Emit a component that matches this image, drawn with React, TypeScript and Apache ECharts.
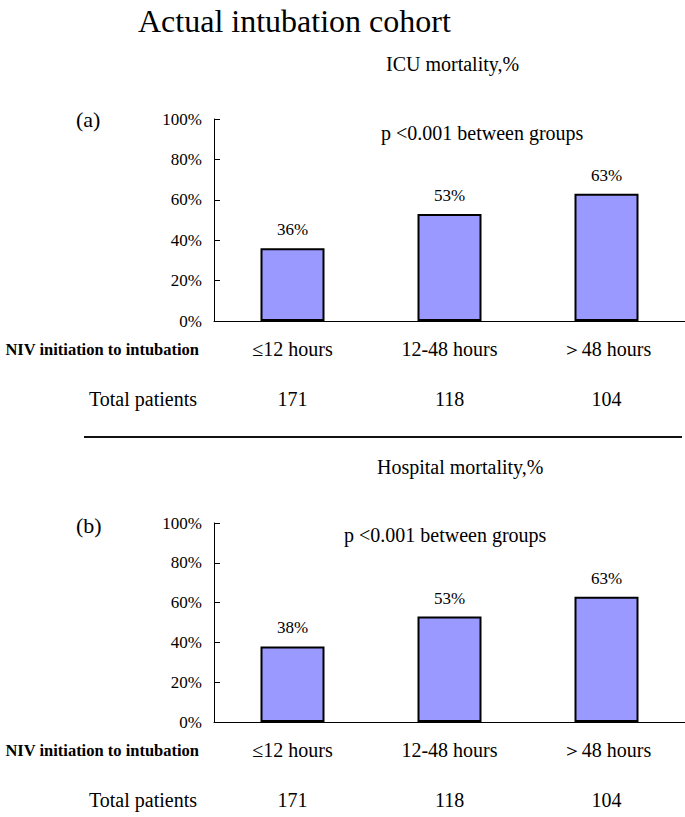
import React, { useEffect, useRef } from 'react';
import * as echarts from 'echarts';

const categories = ['≤12 hours', '12-48 hours', '＞48 hours'];
const icuMortality = [36, 53, 63];
const hospitalMortality = [38, 53, 63];
const totalPatients = ['171', '118', '104'];
const panelTitles = ['ICU mortality,%', 'Hospital mortality,%'];
const panelLetters = ['(a)', '(b)'];
const pText = 'p <0.001 between groups';
const mainTitle = 'Actual intubation cohort';
const rowLabels = ['NIV initiation to intubation', 'Total patients'];

const SERIF = '"Liberation Serif", "Times New Roman", serif';

export default function App() {
  const ref = useRef<HTMLDivElement>(null);

  useEffect(() => {
    document.body.style.margin = '0';
    if (!ref.current) return;
    const chart = echarts.init(ref.current, undefined, { renderer: 'svg' });

    const grids = [
      { left: 214, right: -5, top: 119, height: 202 },
      { left: 214, right: -5, top: 523, height: 199 },
    ];

    const xAxis: any[] = [];
    const yAxis: any[] = [];
    const series: any[] = [];
    const datasets = [icuMortality, hospitalMortality];

    grids.forEach((_, i) => {
      xAxis.push({
        type: 'category',
        gridIndex: i,
        data: categories,
        axisLine: { lineStyle: { color: '#000', width: 1 } },
        axisTick: { inside: true, length: 8, lineStyle: { color: '#000' } },
        axisLabel: {
          margin: 28,
          verticalAlign: 'middle',
          fontSize: 20,
          fontFamily: SERIF,
          color: '#000',
        },
      });
      xAxis.push({
        type: 'category',
        gridIndex: i,
        position: 'bottom',
        data: totalPatients,
        axisLine: { show: false },
        axisTick: { show: false },
        axisLabel: {
          margin: 78,
          verticalAlign: 'middle',
          fontSize: 20,
          fontFamily: SERIF,
          color: '#000',
        },
      });
      yAxis.push({
        type: 'value',
        gridIndex: i,
        min: 0,
        max: 100,
        interval: 20,
        axisLine: { show: true, lineStyle: { color: '#000', width: 1 } },
        axisTick: { show: true, inside: true, length: 6, lineStyle: { color: '#000' } },
        splitLine: { show: false },
        axisLabel: {
          formatter: '{value}%',
          margin: 12,
          fontSize: 17,
          fontFamily: SERIF,
          color: '#000',
        },
      });
      series.push({
        type: 'bar',
        xAxisIndex: i * 2,
        yAxisIndex: i,
        data: datasets[i],
        barWidth: 64,
        itemStyle: { color: '#9999FF', borderColor: '#000', borderWidth: 2 },
        label: {
          show: true,
          position: 'top',
          distance: 10,
          formatter: '{c}%',
          fontSize: 17,
          fontFamily: SERIF,
          color: '#000',
        },
      });
    });

    const txt = (text: string, x: number, y: number, size: number, align = 'left', weight = 'normal') => ({
      type: 'text',
      x,
      y,
      style: {
        text,
        fontSize: size,
        fontFamily: SERIF,
        fontWeight: weight,
        fill: '#000',
        textAlign: align,
        textVerticalAlign: 'middle',
      },
    });

    const graphic: any[] = [
      txt(mainTitle, 138, 21, 32),
      txt(panelTitles[0], 386, 64, 20),
      txt(panelTitles[1], 377, 467, 20),
      txt(panelLetters[0], 76, 119, 22),
      txt(panelLetters[1], 76, 525, 22),
      txt(pText, 381, 133, 20),
      txt(pText, 344, 535, 20),
      txt(rowLabels[0], 199, 349, 16.5, 'right', 'bold'),
      txt(rowLabels[1], 197, 399, 20, 'right'),
      txt(rowLabels[0], 199, 750, 16.5, 'right', 'bold'),
      txt(rowLabels[1], 197, 800, 20, 'right'),
      {
        type: 'line',
        shape: { x1: 84, y1: 437, x2: 682, y2: 437 },
        style: { stroke: '#111', lineWidth: 2 },
      },
    ];

    chart.setOption({
      animation: false,
      backgroundColor: '#fff',
      grid: grids,
      xAxis,
      yAxis,
      series,
      graphic,
    });

    return () => chart.dispose();
  }, []);

  return <div ref={ref} style={{ width: 685, height: 817 }} />;
}
